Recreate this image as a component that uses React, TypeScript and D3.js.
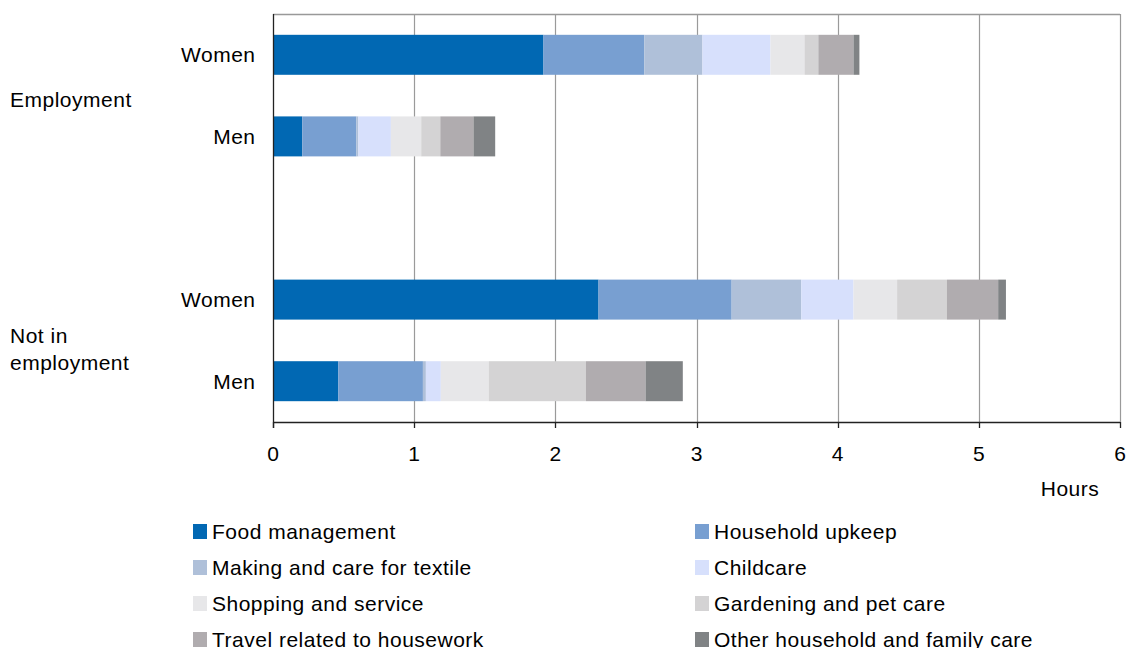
import React from "react";
import * as d3 from "d3";

const series = [
  "Food management",
  "Household upkeep",
  "Making and care for textile",
  "Childcare",
  "Shopping and service",
  "Gardening and pet care",
  "Travel related to housework",
  "Other household and family care",
];
const colors = ["#0168B3", "#789FD1", "#AFC0D9", "#D7E0FC", "#E7E7E9", "#D4D3D4", "#B0ACAF", "#808385"];

const rows = ["EW", "EM", "gap", "NW", "NM"];
const rowLabels = ["Women", "Men", "", "Women", "Men"];

const employedWomen = [1.916, 0.714, 0.412, 0.482, 0.241, 0.098, 0.249, 0.042];
const employedMen = [0.207, 0.384, 0.014, 0.23, 0.215, 0.135, 0.235, 0.154];
const notEmployedWomen = [2.306, 0.943, 0.493, 0.37, 0.309, 0.353, 0.363, 0.055];
const notEmployedMen = [0.463, 0.599, 0.021, 0.106, 0.339, 0.689, 0.422, 0.264];

const xTicks = [0, 1, 2, 3, 4, 5, 6];

const W = 1127;
const H = 648;
const FONT = "'Liberation Sans', Arial, sans-serif";
const LS = 0.5;

export default function App() {
  const left = 273;
  const right = 1120;
  const top = 14;
  const bottom = 422;
  const x = d3.scaleLinear().domain([0, 6]).range([left, right]);
  const y = d3.scaleBand().domain(rows).range([top, bottom]).paddingInner(0.51).paddingOuter(0.255);

  const dataByRow: Record<string, number[]> = {
    EW: employedWomen,
    EM: employedMen,
    NW: notEmployedWomen,
    NM: notEmployedMen,
  };

  const table = ["EW", "EM", "NW", "NM"].map((r) => {
    const obj: any = { row: r };
    series.forEach((s, i) => (obj[s] = dataByRow[r][i]));
    return obj;
  });
  const stacked = d3.stack<any>().keys(series)(table);

  const legendRows = [531, 567, 603, 639];

  return (
    <svg width={W} height={H} style={{ position: "absolute", left: 0, top: 0, fontFamily: FONT, letterSpacing: LS }}>
      <rect width={W} height={H} fill="#fff" />
      {/* top border */}
      <line x1={left} x2={right} y1={top + 0.5} y2={top + 0.5} stroke="#999" strokeWidth={1.5} />
      {/* gridlines */}
      {xTicks.slice(1).map((t) => (
        <line key={t} x1={Math.round(x(t)) + 0.5} x2={Math.round(x(t)) + 0.5} y1={top} y2={bottom} stroke="#9a9a9a" strokeWidth={1.2} />
      ))}
      {/* bars */}
      {stacked.map((layer, si) =>
        layer.map((d: any, i: number) => (
          <rect
            key={si + "-" + i}
            x={x(d[0])}
            width={x(d[1]) - x(d[0])}
            y={y(d.data.row)}
            height={y.bandwidth()}
            fill={colors[si]}
          />
        ))
      )}
      {/* axes */}
      <line x1={left + 0.5} x2={left + 0.5} y1={top} y2={bottom + 6} stroke="#222" strokeWidth={1.3} />
      <line x1={left} x2={right} y1={bottom + 0.5} y2={bottom + 0.5} stroke="#222" strokeWidth={1.3} />
      {xTicks.map((t) => (
        <g key={t}>
          <line x1={Math.round(x(t)) + 0.5} x2={Math.round(x(t)) + 0.5} y1={bottom} y2={bottom + 6} stroke="#222" strokeWidth={1.3} />
          <text x={x(t) + LS / 2} y={453} textAnchor="middle" dominantBaseline="central" fontSize={21} fill="#000">
            {t}
          </text>
        </g>
      ))}
      <text x={1070} y={488} textAnchor="middle" dominantBaseline="central" fontSize={21} fill="#000">
        Hours
      </text>
      {/* category labels */}
      {rows.map((r, i) =>
        rowLabels[i] ? (
          <text key={r} x={255 + LS} y={(y(r) as number) + y.bandwidth() / 2} textAnchor="end" dominantBaseline="central" fontSize={21} fill="#000">
            {rowLabels[i]}
          </text>
        ) : null
      )}
      {/* group labels */}
      <text x={10} y={99} dominantBaseline="central" fontSize={21} fill="#000">Employment</text>
      <text x={10} y={335} dominantBaseline="central" fontSize={21} fill="#000">Not in</text>
      <text x={10} y={362} dominantBaseline="central" fontSize={21} fill="#000">employment</text>
      {/* legend */}
      {series.map((s, i) => {
        const col = i % 2;
        const row = Math.floor(i / 2);
        const sx = col === 0 ? 193 : 695;
        const cy = legendRows[row];
        return (
          <g key={s}>
            <rect x={sx} y={cy - 7} width={14} height={15} fill={colors[i]} />
            <text x={sx + 19} y={cy} dominantBaseline="central" fontSize={21} fill="#000">
              {s}
            </text>
          </g>
        );
      })}
    </svg>
  );
}
